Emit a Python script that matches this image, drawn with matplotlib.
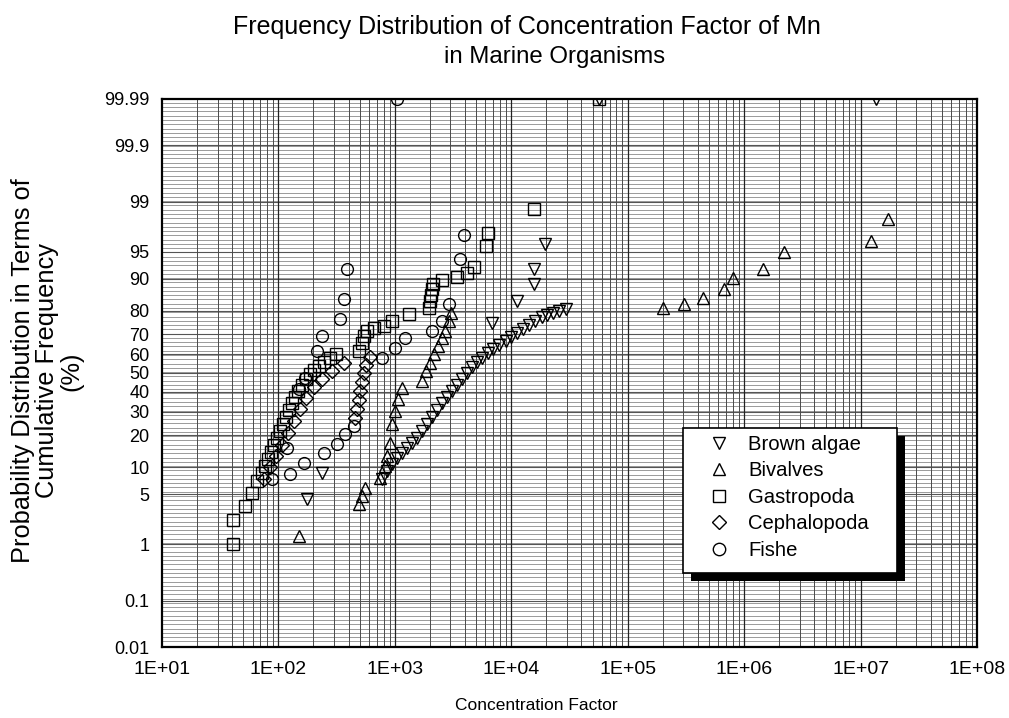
import numpy as np
import matplotlib
matplotlib.use("Agg")
import matplotlib.pyplot as plt
from matplotlib import patheffects
from matplotlib.patches import Rectangle
from statistics import NormalDist

# ---------------- data (concentration factor, cumulative %) ----------------
brown_cf = [175, 236, 771, 851, 939, 1036, 1143, 1262, 1393, 1538, 1698, 1874,
            2069, 2283, 2520, 2782, 3071, 3390, 3742, 4130, 4559, 5033, 5555,
            6250, 7030, 7920, 8920, 10000, 11300, 12700, 14300, 16100, 18200,
            20400, 23000, 25900, 29700, 6770, 11100, 15800, 15800, 19300,
            57000, 1.36e7]
brown_p = [4.4, 8.7, 7.5, 9.2, 10.8, 12.4, 13.9, 15.4, 17.1, 18.9, 21.6, 24.4,
           27.5, 30.8, 34.2, 37.2, 40.4, 43.5, 46.8, 50.0, 53.3, 55.9, 58.1,
           60.7, 62.8, 64.8, 66.8, 68.7, 70.6, 72.5, 74.3, 76.0, 77.6,
           78.4, 79.2, 80.0, 80.7, 75.1, 83.6, 88.6, 92.1, 96.0,
           99.99, 99.99]

bivalve_cf = [150, 489, 519, 551, 742, 818, 851, 902, 939, 995, 1057, 1143,
              1698, 1836, 1987, 2150, 2330, 2520, 2670, 2890, 3010,
              2.02e5, 3.05e5, 4.45e5, 6.73e5, 8.05e5, 1.46e6, 2.20e6,
              1.23e7, 1.72e7]
bivalve_p = [1.35, 3.8, 4.8, 5.9, 7.7, 10.3, 13.0, 17.1, 24.4, 30.3, 36.2, 41.9,
             45.7, 51.1, 55.4, 60.2, 64.3, 68.3, 71.6, 76.0, 79.2,
             81.1, 82.5, 84.6, 87.3, 90.1, 92.1, 95.0,
             96.3, 98.2]

gastro_cf = [41, 41, 52, 59, 66, 72, 76, 81, 86, 91, 97, 103, 109, 116, 123,
             130, 138, 147, 159, 172, 186, 201, 222, 245, 276, 311, 489, 519,
             540, 573, 658, 801, 939, 1312, 1950, 1990, 2030, 2070, 2110, 2520,
             3390, 4130, 4830, 6010, 6370, 15800, 57000]
gastro_p = [1.0, 2.3, 3.6, 5.2, 7.1, 8.7, 10.3, 12.2, 14.2, 16.4, 18.9, 21.6,
            24.4, 27.5, 30.8, 34.2, 37.2, 40.4, 43.5, 46.8, 49.5, 51.6, 53.8,
            55.9, 58.1, 60.2, 61.7, 65.8, 69.2, 71.6, 72.9, 73.8, 76.0, 78.8,
            81.1, 83.6, 85.5, 87.3, 88.6, 89.7, 90.4, 91.3, 92.5, 95.8, 97.1,
            98.7, 99.99]

cephalo_cf = [75, 84, 95, 107, 120, 136, 153, 172, 201, 236, 287, 364,
              452, 470, 489, 499, 519, 540, 562, 608]
cephalo_p = [7.5, 10.1, 13.0, 16.4, 20.8, 25.7, 31.3, 36.7, 42.5, 46.8, 51.1,
             55.4, 27.1, 31.3, 35.7, 40.4, 45.1, 50.0, 54.3, 58.6]

fish_cf = [88, 118, 125, 165, 245, 317, 371, 443, 771, 995, 1213, 2069, 2520,
           2890, 3600, 3890, 1036, 150, 168, 213, 236, 336, 364, 386]
fish_p = [7.5, 15.4, 8.5, 11.1, 13.9, 16.8, 20.4, 23.6, 58.1, 63.3, 68.3,
          71.6, 76.0, 82.5, 93.9, 96.9, 99.99, 41.4, 47.3, 61.7, 69.2, 76.8,
          84.2, 92.1]

ytick_vals = [0.01, 0.1, 1, 5, 10, 20, 30, 40, 50, 60, 70, 80, 90, 95, 99,
              99.9, 99.99]
ytick_labels = ["0.01", "0.1", "1", "5", "10", "20", "30", "40", "50", "60",
                "70", "80", "90", "95", "99", "99.9", "99.99"]
xtick_vals = [1e1, 1e2, 1e3, 1e4, 1e5, 1e6, 1e7, 1e8]
xtick_labels = ["1E+01", "1E+02", "1E+03", "1E+04", "1E+05", "1E+06",
                "1E+07", "1E+08"]

# ---------------- probability (probit) scale ----------------
_nd = NormalDist()
_ppf = np.vectorize(_nd.inv_cdf, otypes=[float])
_cdf = np.vectorize(_nd.cdf, otypes=[float])


def fwd(p):
    p = np.asarray(p, dtype=float)
    q = np.clip(p / 100.0, 1e-12, 1 - 1e-12)
    q = np.where(np.isnan(q), 0.5, q)
    return _ppf(q)


def inv(z):
    z = np.asarray(z, dtype=float)
    return _cdf(z) * 100.0


plt.rcParams["font.family"] = ["Liberation Sans", "DejaVu Sans"]

fig = plt.figure(figsize=(10.09, 7.18), dpi=100)
ax = fig.add_axes([162 / 1009, 71 / 718, 815 / 1009, 548 / 718])
ax.set_xscale("log")
ax.set_yscale("function", functions=(fwd, inv))
ax.set_xlim(10, 1e8)
ax.set_ylim(0.01, 99.99)

# probability-paper grid
zgrid = np.arange(-3.70, 3.71, 0.058)
pgrid = inv(zgrid)
ax.hlines(pgrid, 10, 1e8, colors="#8a8a8a", linewidth=0.6, zorder=1)
ax.hlines(ytick_vals[1:-1], 10, 1e8, colors="#555555", linewidth=0.8, zorder=1)
vgrid = [m * 10 ** k for k in range(1, 8) for m in range(2, 10)]
ax.vlines(vgrid, 0.01, 99.99, colors="#4a4a4a", linewidth=0.7, zorder=1)
ax.vlines(xtick_vals[1:-1], 0.01, 99.99, colors="#222222", linewidth=0.9, zorder=1)

mk = dict(linestyle="none", mfc="none", mec="black", mew=1.0, zorder=3)
ax.plot(brown_cf, brown_p, marker="v", ms=8.5, label="Brown algae", **mk)
ax.plot(bivalve_cf, bivalve_p, marker="^", ms=8.5, label="Bivalves", **mk)
ax.plot(gastro_cf, gastro_p, marker="s", ms=8.5, label="Gastropoda", **mk)
ax.plot(cephalo_cf, cephalo_p, marker="D", ms=7, label="Cephalopoda", **mk)
ax.plot(fish_cf, fish_p, marker="o", ms=8.5, label="Fishe", **mk)

ax.set_yticks(ytick_vals)
ax.set_yticklabels(ytick_labels)
ax.yaxis.set_minor_locator(matplotlib.ticker.NullLocator())
ax.set_xticks(xtick_vals)
ax.set_xticklabels(xtick_labels)
ax.xaxis.set_minor_locator(matplotlib.ticker.NullLocator())
ax.tick_params(axis="y", length=0, pad=9, labelsize=13)
ax.tick_params(axis="x", length=0, pad=10, labelsize=14)
for s in ax.spines.values():
    s.set_linewidth(1.6)
    s.set_zorder(4)

# legend box with solid drop shadow
box = Rectangle((0.6393, 0.1350), 0.2626, 0.2646, transform=ax.transAxes,
                facecolor="white", edgecolor="black", linewidth=1.2, zorder=5)
box.set_path_effects([
    patheffects.SimplePatchShadow(offset=(6, -6), shadow_rgbFace="black",
                                  alpha=1.0),
    patheffects.Normal()])
ax.add_patch(box)

leg = ax.legend(loc="upper left", bbox_to_anchor=(0.6710, 0.387),
                borderaxespad=0, borderpad=0, frameon=False, fontsize=14.6,
                labelspacing=0.37, handletextpad=0.95, handlelength=1.0,
                markerscale=1.05)
leg.set_zorder(6)

fig.text(527 / 1009, 1 - 27 / 718,
         "Frequency Distribution of Concentration Factor of Mn",
         ha="center", va="center", fontsize=18)
fig.text(555 / 1009, 1 - 57 / 718, "in Marine Organisms",
         ha="center", va="center", fontsize=17.3)
fig.text(536 / 1009, 1 - 706 / 718, "Concentration Factor",
         ha="center", va="center", fontsize=12.5)
fig.text(47 / 1009, 1 - 371 / 718,
         "Probability Distribution in Terms of\nCumulative Frequency\n(%)",
         ha="center", va="center", rotation=90, fontsize=18.3,
         multialignment="center", linespacing=1.0)

fig.savefig("out.png", dpi=100)
